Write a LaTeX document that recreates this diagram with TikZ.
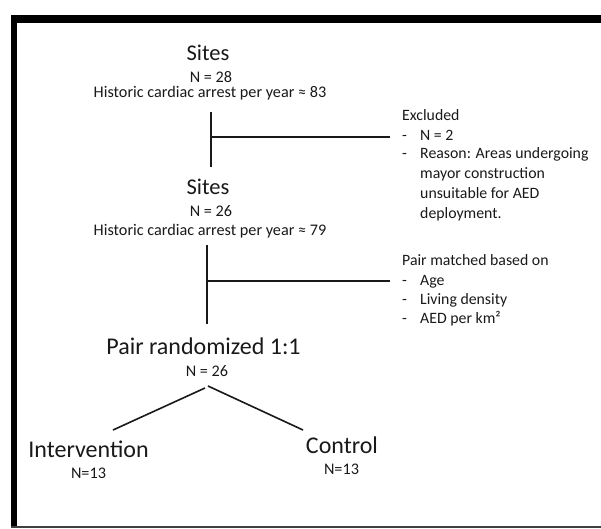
\documentclass[tikz,border=0pt]{standalone}
\usepackage{fontspec}
\setmainfont{Carlito}
\begin{document}
\begin{tikzpicture}[x=1pt,y=-1pt,
  txt/.style={inner sep=0pt,anchor=base,text=black!90},
  small/.style={txt,font=\fontsize{16.2}{19}\selectfont},
  mid/.style={txt,font=\fontsize{22.5}{26}\selectfont},
  big/.style={txt,font=\fontsize{24}{28}\selectfont},
  lst/.style={txt,anchor=base west,font=\fontsize{15.8}{19}\selectfont},
  conn/.style={line width=2pt,black!90},
  diag/.style={line width=1.6pt,black!90}]
\useasboundingbox (0,0) rectangle (601,528);
% frame
\fill[black] (11,15) rectangle (601,23);
\fill[black] (11,15) rectangle (17,528);
\fill[black!75] (11,526) rectangle (601,528);
% top block
\node[mid]   (sites1) at (208,60) {Sites};
\node[small] (n28)    at (211,82) {N = 28};
\node[small] (hist1)  at (210,97) {Historic cardiac arrest per year ≈ 83};
% excluded
\node[lst] (exh)  at (402,120) {Excluded};
\node[lst] (exd1) at (402,140) {-};
\node[lst] (ex1)  at (420,140) {N = 2};
\node[lst] (exd2) at (402,158) {-};
\node[lst] (ex2)  at (420,158) {Reason: Areas undergoing};
\node[lst] (ex3)  at (420,178) {mayor construction};
\node[lst] (ex4)  at (420,198) {unsuitable for AED};
\node[lst] (ex5)  at (420,218) {deployment.};
% second block
\node[mid]   (sites2) at (208,194) {Sites};
\node[small] (n26a)   at (211,216) {N = 26};
\node[small] (hist2)  at (210,235) {Historic cardiac arrest per year ≈ 79};
% pair matched
\node[lst] (pmh)  at (402,265) {Pair matched based on};
\node[lst] (pmd1) at (402,285) {-};
\node[lst] (pm1)  at (420,285) {Age};
\node[lst] (pmd2) at (402,304) {-};
\node[lst] (pm2)  at (420,304) {Living density};
\node[lst] (pmd3) at (402,323) {-};
\node[lst] (pm3)  at (420,323) {AED per km²};
% randomized
\node[big]   (rand) at (203.5,354) {Pair randomized 1:1};
\node[small] (n26b) at (207,376) {N = 26};
\node[big]   (int)  at (88.5,457) {Intervention};
\node[small] (n13a) at (88.5,478) {N=13};
\node[big]   (ctl)  at (342,453) {Control};
\node[small] (n13b) at (341.5,474) {N=13};
% connectors
\coordinate (v1t) at (211,112);
\coordinate (v1b) at (211,167);
\coordinate (v1m) at (211,137);
\coordinate (h1e) at (390,137);
\coordinate (v2t) at (207,245);
\coordinate (v2b) at (207,324);
\coordinate (v2m) at (207,281);
\coordinate (h2e) at (390,281);
\coordinate (sl) at (205,388);
\coordinate (sr) at (208,386);
\coordinate (el) at (113,430);
\coordinate (er) at (303,430);
\draw[conn] (v1t) -- (v1b);
\draw[conn] (v1m) -- (h1e);
\draw[conn] (v2t) -- (v2b);
\draw[conn] (v2m) -- (h2e);
\draw[diag] (sl) -- (el);
\draw[diag] (sr) -- (er);
\end{tikzpicture}
\end{document}
